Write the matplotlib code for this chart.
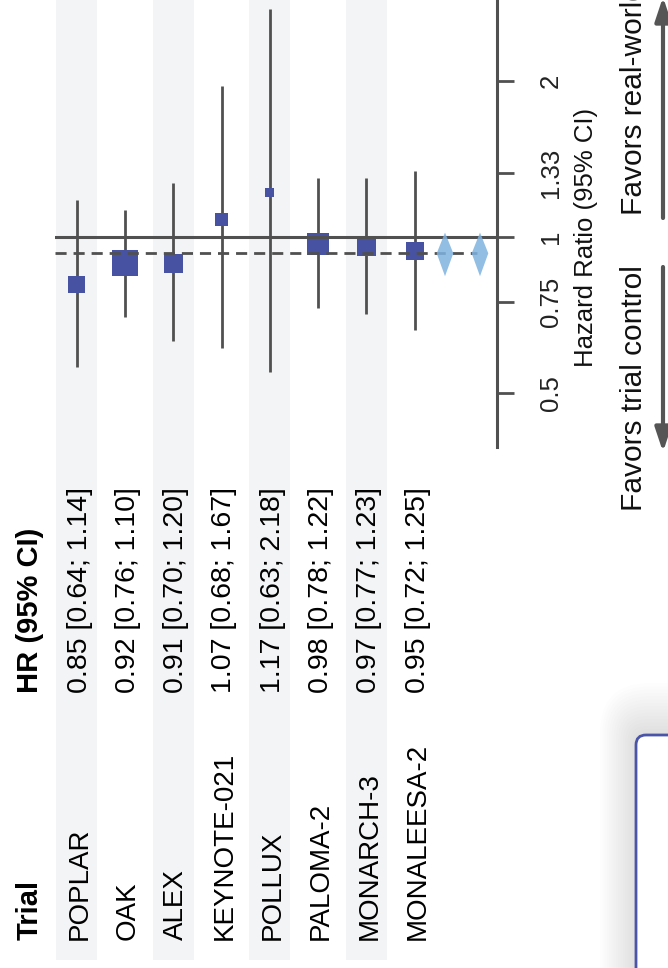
import numpy as np
import matplotlib
matplotlib.use('Agg')
import matplotlib.pyplot as plt
import matplotlib.ticker as ticker
import matplotlib.transforms as mtransforms
from matplotlib.patches import FancyBboxPatch, FancyArrowPatch

plt.rcParams['font.family'] = ['Liberation Sans', 'DejaVu Sans']

# printed values (text column)
trials = ['POPLAR', 'OAK', 'ALEX', 'KEYNOTE-021', 'POLLUX',
          'PALOMA-2', 'MONARCH-3', 'MONALEESA-2']
hr_text = [0.85, 0.92, 0.91, 1.07, 1.17, 0.98, 0.97, 0.95]
lo_text = [0.64, 0.76, 0.70, 0.68, 0.63, 0.78, 0.77, 0.72]
hi_text = [1.14, 1.10, 1.20, 1.67, 2.18, 1.22, 1.23, 1.25]

# values as drawn in the plot
hr_plot = [0.81, 0.89, 0.89, 1.08, 1.22, 0.97, 0.96, 0.94]
lo_plot = [0.56, 0.70, 0.63, 0.61, 0.55, 0.73, 0.71, 0.66]
hi_plot = [1.18, 1.13, 1.27, 1.96, 2.76, 1.30, 1.30, 1.34]
weights = [9.9, 25.4, 13.1, 5.7, 2.9, 17.5, 13.8, 11.7]

# pooled estimates (two diamonds)
pooled_hr = [0.93, 0.93]
pooled_lo = [0.84, 0.84]
pooled_hi = [1.02, 1.02]

tick_vals = [0.5, 0.75, 1, 1.33, 2]
tick_labels = ['0.5', '0.75', '1', '1.33', '2']

gray = '#505050'
sq_color = '#4852a3'
dia_color = '#7fb3e0'
band = '#f3f4f6'
box_blue = '#4b55a8'

W, H = 668, 968
fig = plt.figure(figsize=(W / 100, H / 100), dpi=100)


def fx(px):
    return px / W


def fy(py):
    return 1 - py / H


# row layout (pixels in the picture)
row_px0, row_px = 76.7, 48.3


def to_row(px):
    return (px - row_px0) / row_px


x_left, x_right = to_row(55), to_row(497)
y_lo, y_hi = np.exp((237 - 447) / 225), np.exp(237 / 225)
pos = np.arange(len(trials))

# striped background
ax_bg = fig.add_axes([fx(55), fy(960), fx(497) - fx(55), fy(0) - fy(960)])
ax_bg.set_xlim(x_left, x_right)
ax_bg.axis('off')
for i in range(0, len(trials), 2):
    ax_bg.axvspan(i - 0.425, i + 0.425, color=band, lw=0)

# forest plot
ax = fig.add_axes([fx(55), fy(447), fx(497) - fx(55), fy(0) - fy(447)])
ax.patch.set_visible(False)
ax.set_yscale('log')
ax.set_xlim(x_left, x_right)
ax.set_ylim(y_lo, y_hi)
ax.set_yticks(tick_vals, tick_labels)
ax.yaxis.set_minor_locator(ticker.NullLocator())
ax.yaxis.set_minor_formatter(ticker.NullFormatter())
ax.yaxis.tick_right()
ax.set_xticks([])
for s in ['top', 'left', 'bottom']:
    ax.spines[s].set_visible(False)
ax.spines['right'].set_linewidth(2.2)
ax.spines['right'].set_color(gray)
ax.tick_params(axis='y', length=12.5, width=2, color=gray, pad=26.4,
               labelsize=18.5, labelcolor='#222222', labelrotation=90)
for lab in ax.get_yticklabels():
    lab.set_horizontalalignment('center')
    lab.set_verticalalignment('center')

ax.vlines(pos, lo_plot, hi_plot, color=gray, lw=2, zorder=2)
side_pt = 5.26 * np.sqrt(weights) * 0.72
ax.scatter(pos, hr_plot, s=side_pt ** 2, marker='s', color=sq_color,
           linewidths=0, zorder=3)
ax.axhline(1, color=gray, lw=2.2, zorder=4)
ax.plot([x_left, to_row(477)], [pooled_hr[0], pooled_hr[0]], color=gray,
        lw=2, ls=(0, (4, 2.5)), zorder=4)

dia_pos = [to_row(445), to_row(480)]
hw = 8.3 / row_px
for p, est, lo, hi in zip(dia_pos, pooled_hr, pooled_lo, pooled_hi):
    ax.fill([p - hw, p, p + hw, p], [est, hi, est, lo], color=dia_color,
            alpha=0.85, lw=0, zorder=5)

# text columns
tr = mtransforms.blended_transform_factory(ax.transData, fig.transFigure)
off = 0.06
ax.text(-1.03 + off, fy(940), 'Trial', transform=tr, rotation=90,
        ha='center', va='bottom', fontsize=21, fontweight='bold')
ax.text(-1.03 + off, fy(693), 'HR (95% CI)', transform=tr, rotation=90,
        ha='center', va='bottom', fontsize=21, fontweight='bold')
for i, name in enumerate(trials):
    ax.text(i + off, fy(940), name, transform=tr, rotation=90,
            ha='center', va='bottom', fontsize=20)
    ax.text(i + off, fy(693), f'{hr_text[i]:.2f} [{lo_text[i]:.2f}; {hi_text[i]:.2f}]',
            transform=tr, rotation=90, ha='center', va='bottom', fontsize=20.5)

# axis title and direction labels
tr2 = mtransforms.blended_transform_factory(fig.transFigure, ax.transData)
ax.text(fx(586), 1, 'Hazard Ratio (95% CI)', transform=tr2, rotation=90,
        ha='center', va='center', fontsize=18.5, color='#111111')
fig.text(fx(634), fy(265), 'Favors trial control', rotation=90,
         ha='center', va='top', fontsize=21.5, color='#111111')
fig.text(fx(634), fy(215), 'Favors real-world', rotation=90,
         ha='center', va='bottom', fontsize=21.5, color='#111111')

arrow_style = '-|>,head_length=0.72,head_width=0.24'
fig.add_artist(FancyArrowPatch((fx(663), fy(218)), (fx(663), fy(-3)),
                               transform=fig.transFigure, arrowstyle=arrow_style,
                               mutation_scale=20, lw=3, color='#555555',
                               shrinkA=0, shrinkB=0))
fig.add_artist(FancyArrowPatch((fx(663), fy(267)), (fx(663), fy(452)),
                               transform=fig.transFigure, arrowstyle=arrow_style,
                               mutation_scale=20, lw=3, color='#555555',
                               shrinkA=0, shrinkB=0))

# popup box in the corner with soft shadow
ident = mtransforms.IdentityTransform()
for e in np.linspace(2, 40, 16):
    fig.add_artist(FancyBboxPatch((636 - 0.9 * e, -50), 200, (H - 735) + 50 + 1.3 * e,
                                  boxstyle=f'round,pad=0,rounding_size={10 + e}',
                                  transform=ident, facecolor='black', alpha=0.008,
                                  lw=0))
fig.add_artist(FancyBboxPatch((636, -50), 200, (H - 735) + 50,
                              boxstyle='round,pad=0,rounding_size=10',
                              transform=ident, facecolor='white',
                              edgecolor=box_blue, lw=2))

fig.savefig('out.png', dpi=100)
